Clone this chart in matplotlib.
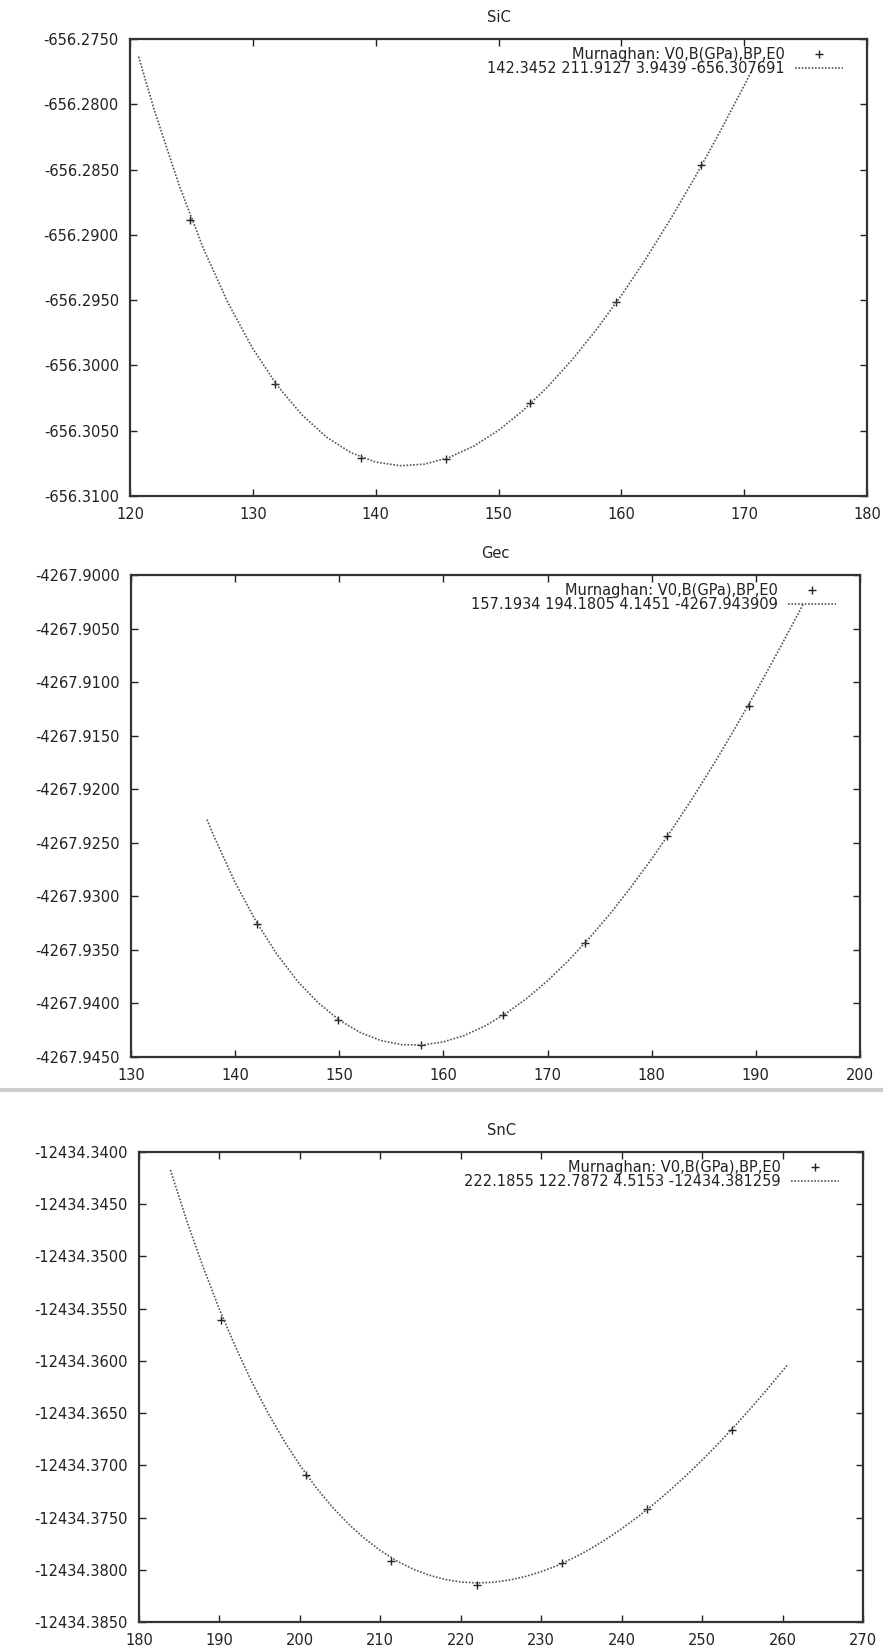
#!/usr/bin/env python3
"""
Murnaghan equation-of-state fits for SiC, GeC and SnC
(energy in Ry against cell volume in bohr^3), gnuplot look.
"""

import matplotlib
matplotlib.use('Agg')
import matplotlib.pyplot as plt
from matplotlib.lines import Line2D
from matplotlib.ticker import FormatStrFormatter, MultipleLocator

plt.rcParams['font.family'] = ['DejaVu Sans']
FS = 10.5

# ---- data ----------------------------------------------------------------
titles = ['SiC', 'Gec', 'SnC']
data_label = 'Murnaghan: V0,B(GPa),BP,E0'
fit_labels = ['142.3452 211.9127 3.9439 -656.307691',
              '157.1934 194.1805 4.1451 -4267.943909',
              '222.1855 122.7872 4.5153 -12434.381259']

# calculated points
sic_v = [124.91, 131.79, 138.80, 145.73, 152.60, 159.60, 166.50]
sic_e = [-656.28883, -656.30141, -656.30710, -656.30716, -656.30287,
         -656.29513, -656.28468]
gec_v = [142.13, 149.92, 157.87, 165.70, 173.55, 181.49, 189.33]
gec_e = [-4267.93258, -4267.94151, -4267.94392, -4267.94108, -4267.93435,
         -4267.92434, -4267.91223]
snc_v = [190.23, 200.72, 211.37, 222.00, 232.57, 243.21, 253.72]
snc_e = [-12434.35609, -12434.37091, -12434.37914, -12434.38145,
         -12434.37938, -12434.37416, -12434.36660]

# fitted curves
sic_fit_v = [120.7, 122, 124, 126, 128, 130, 132, 134, 136, 138, 140, 142,
             144, 146, 148, 150, 152, 154, 156, 158, 160, 162, 164, 166,
             168, 170, 170.6]
sic_fit_e = [-656.27635, -656.28051, -656.28620, -656.29110, -656.29525,
             -656.29872, -656.30155, -656.30379, -656.30549, -656.30669,
             -656.30740, -656.30768, -656.30756, -656.30704, -656.30617,
             -656.30497, -656.30345, -656.30164, -656.29956, -656.29722,
             -656.29464, -656.29183, -656.28880, -656.28558, -656.28216,
             -656.27857, -656.27746]
gec_fit_v = [137.3, 138, 140, 142, 144, 146, 148, 150, 152, 154, 156, 158,
             160, 162, 164, 166, 168, 170, 172, 174, 176, 178, 180, 182,
             184, 186, 188, 190, 192, 194, 194.6]
gec_fit_e = [-4267.92283, -4267.92447, -4267.92871, -4267.93233, -4267.93539,
             -4267.93793, -4267.93997, -4267.94155, -4267.94271, -4267.94347,
             -4267.94385, -4267.94388, -4267.94359, -4267.94299, -4267.94210,
             -4267.94094, -4267.93953, -4267.93788, -4267.93600, -4267.93391,
             -4267.93163, -4267.92915, -4267.92650, -4267.92368, -4267.92071,
             -4267.91758, -4267.91431, -4267.91091, -4267.90738, -4267.90373,
             -4267.90262]
snc_fit_v = [183.9, 186, 188, 190, 192, 194, 196, 198, 200, 202, 204, 206,
             208, 210, 212, 214, 216, 218, 220, 222, 224, 226, 228, 230,
             232, 234, 236, 238, 240, 242, 244, 246, 248, 250, 252, 254,
             256, 258, 260, 260.7]
snc_fit_e = [-12434.34172, -12434.34673, -12434.35108, -12434.35506,
             -12434.35868, -12434.36197, -12434.36494, -12434.36761,
             -12434.36999, -12434.37211, -12434.37397, -12434.37559,
             -12434.37698, -12434.37816, -12434.37913, -12434.37991,
             -12434.38050, -12434.38092, -12434.38117, -12434.38126,
             -12434.38120, -12434.38099, -12434.38065, -12434.38018,
             -12434.37959, -12434.37887, -12434.37805, -12434.37711,
             -12434.37607, -12434.37494, -12434.37371, -12434.37239,
             -12434.37099, -12434.36950, -12434.36793, -12434.36629,
             -12434.36458, -12434.36280, -12434.36095, -12434.36029]

x_limits = [(120, 180), (130, 200), (180, 270)]
y_limits = [(-656.3100, -656.2750), (-4267.9450, -4267.9000),
            (-12434.3850, -12434.3400)]

points = [(sic_v, sic_e), (gec_v, gec_e), (snc_v, snc_e)]
fits = [(sic_fit_v, sic_fit_e), (gec_fit_v, gec_fit_e),
        (snc_fit_v, snc_fit_e)]

# ---- figure --------------------------------------------------------------
W, H = 883, 1645
fig = plt.figure(figsize=(W / 100, H / 100), dpi=100)

# axes boxes in pixels: left, top, right, bottom
boxes = [(130, 39, 867, 496), (131, 575, 860, 1057), (139, 1152, 863, 1622)]
ink = '#222222'

for i, (l, t, r, b) in enumerate(boxes):
    ax = fig.add_axes([l / W, 1 - b / H, (r - l) / W, (b - t) / H])
    ax.plot(*points[i], '+', color=ink, ms=6, mew=1.0, label=data_label)
    ax.plot(*fits[i], color='#555555', lw=1.2, ls=(0, (1, 1)),
            label=fit_labels[i])

    ax.set_xlim(*x_limits[i])
    ax.set_ylim(*y_limits[i])
    ax.xaxis.set_major_locator(MultipleLocator(10))
    ax.yaxis.set_major_locator(MultipleLocator(0.005))
    ax.yaxis.set_major_formatter(FormatStrFormatter('%.4f'))
    ax.tick_params(direction='in', top=True, right=True, length=5, width=1,
                   labelsize=FS, colors=ink, pad=8)
    for s in ax.spines.values():
        s.set_linewidth(1.6)
        s.set_color('#333333')

    ax.set_title(titles[i], fontsize=FS, color=ink, pad=12)
    # gnuplot style key: text right-aligned, sample on the right
    ax.legend(loc='upper right', bbox_to_anchor=(1 - 16 / (r - l), 1),
              frameon=False, markerfirst=False, fontsize=FS,
              handlelength=3.3, handletextpad=0.7, labelspacing=-0.05,
              borderaxespad=0, borderpad=0.55, labelcolor=ink)

# light grey divider between the second and third plot
fig.add_artist(Line2D([0, 1], [1 - 1090 / H] * 2, color='#cccccc', lw=3))

fig.savefig('out.png', dpi=100)
